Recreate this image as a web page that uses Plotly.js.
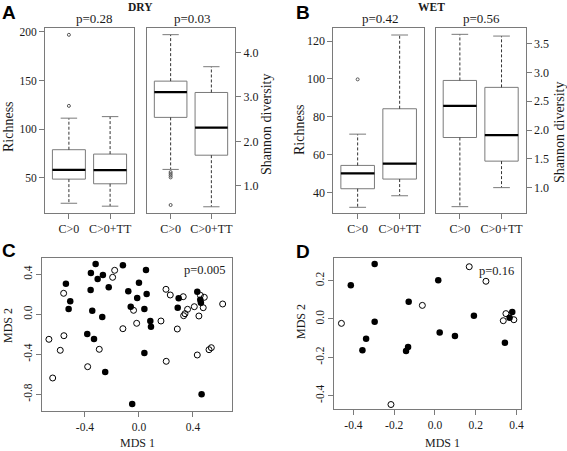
<!DOCTYPE html>
<html>
<head>
<meta charset="utf-8">
<script src="https://cdn.plot.ly/plotly-3.0.1.min.js"></script>
<style>html,body{margin:0;padding:0;background:#fff}#chart{width:567px;height:451px}</style>
</head>
<body>
<div id="chart"></div>
<script>
// ---------- DATA ----------
var categories = ['C>0', 'C>0+TT'];
var positions = [1, 2];

// Panel A (DRY) - Richness
var dryRichLower  = [24, 21];
var dryRichQ1     = [48.8, 44];
var dryRichMedian = [58.3, 58];
var dryRichQ3     = [79, 74.5];
var dryRichUpper  = [111.4, 113];
var dryRichOutX   = [1, 1];
var dryRichOutY   = [197, 124];

// Panel A (DRY) - Shannon diversity
var dryShanLower  = [1.37, 0.53];
var dryShanQ1     = [2.54, 1.69];
var dryShanMedian = [3.11, 2.31];
var dryShanQ3     = [3.355, 3.10];
var dryShanUpper  = [4.40, 3.68];
var dryShanOutX   = [1, 1, 1, 1, 1];
var dryShanOutY   = [1.31, 1.27, 1.23, 1.19, 0.57];

// Panel B (WET) - Richness
var wetRichLower  = [32.3, 38.4];
var wetRichQ1     = [42.1, 47.2];
var wetRichMedian = [50.2, 55.3];
var wetRichQ3     = [54.4, 84.3];
var wetRichUpper  = [70.9, 123.2];
var wetRichOutX   = [1];
var wetRichOutY   = [99.8];

// Panel B (WET) - Shannon diversity
var wetShanLower  = [0.67, 1.0];
var wetShanQ1     = [1.87, 1.46];
var wetShanMedian = [2.42, 1.91];
var wetShanQ3     = [2.86, 2.74];
var wetShanUpper  = [3.66, 3.63];

// Panel C (DRY) - MDS
var cFilledX = [-0.321,-0.356,-0.306,-0.267,-0.119,-0.541,-0.358,-0.224,0.0,-0.509,-0.521,-0.079,-0.013,-0.346,-0.272,-0.061,-0.383,-0.333,-0.25,-0.05,0.052,0.057,0.04,0.084,0.089,0.04,0.294,0.287,0.432,0.459,0.454,0.464];
var cFilledY = [0.503,0.413,0.353,0.393,0.49,0.306,0.243,0.27,0.316,0.13,0.053,0.23,0.163,0.036,-0.027,0.076,-0.197,-0.247,-0.577,-0.897,0.443,0.203,0.053,-0.067,-0.124,-0.387,0.16,0.066,0.226,0.116,0.145,-0.8];
var cOpenX = [-0.18,-0.195,-0.558,-0.04,-0.017,-0.119,-0.667,-0.556,-0.583,-0.294,-0.38,-0.639,0.2,0.232,0.328,0.163,0.284,0.36,0.341,0.331,0.41,0.444,0.476,0.484,0.455,0.62,0.536,0.519,0.432,0.202];
var cOpenY = [0.44,0.37,0.21,0.04,-0.09,-0.144,-0.25,-0.214,-0.36,-0.35,-0.524,-0.637,0.25,0.193,0.176,-0.067,-0.147,0.05,0.006,-0.014,0.076,-0.017,0.066,0.17,0.19,0.103,-0.334,-0.354,-0.407,-0.47];

// Panel D (WET) - MDS
var dFilledX = [-0.296,-0.413,0.016,-0.129,-0.296,-0.338,-0.356,-0.132,-0.142,0.023,0.098,0.191,0.379,0.366,0.343];
var dFilledY = [0.287,0.176,0.202,0.09,-0.014,-0.103,-0.164,-0.146,-0.167,-0.071,-0.089,0.017,0.037,0.007,-0.124];
var dOpenX = [-0.459,-0.062,0.168,0.25,0.348,0.335,0.387,-0.216];
var dOpenY = [-0.023,0.071,0.273,0.197,0.028,-0.009,-0.004,-0.447];

// Tick labels
var dryRichTicks = [50, 100, 150, 200];
var dryShanTicks = [1, 2, 3, 4];
var dryShanTickText = ['1.0', '2.0', '3.0', '4.0'];
var wetRichTicks = [40, 60, 80, 100, 120];
var wetShanTicks = [1, 1.5, 2, 2.5, 3, 3.5];
var wetShanTickText = ['1.0', '1.5', '2.0', '2.5', '3.0', '3.5'];
var cXTicks = [-0.4, 0, 0.4], cXText = ['-0.4', '0.0', '0.4'];
var cYTicks = [-0.8, -0.4, 0, 0.4], cYText = ['-0.8', '-0.4', '0.0', '0.4'];
var dXTicks = [-0.4, -0.2, 0, 0.2, 0.4], dXText = ['-0.4', '-0.2', '0.0', '0.2', '0.4'];
var dYTicks = [-0.4, -0.2, 0, 0.2], dYText = ['-0.4', '-0.2', '0.0', '0.2'];

// ---------- STYLE / LAYOUT ----------
var W = 567, H = 451;
var GREY = '#7a7a7a', TXT = '#1a1a1a';
var SERIF = 'Liberation Serif, Times New Roman, serif';
function px(x){ return x / W; }
function py(y){ return 1 - y / H; }

var traces = [];

function boxPanel(ax, lower, q1, med, q3, upper, outX, outY){
  var xa = 'x' + ax, ya = 'y' + ax;
  if (ax === '') { xa = 'x'; ya = 'y'; }
  traces.push({
    type: 'box', x: positions, q1: q1, median: med, q3: q3,
    lowerfence: q1, upperfence: q3, width: 0.8, whiskerwidth: 0,
    boxpoints: false, fillcolor: '#ffffff', line: {color: GREY, width: 1},
    xaxis: xa, yaxis: ya, showlegend: false, hoverinfo: 'skip'
  });
  var wx = [], wy = [], sx = [], sy = [], mx = [], my = [];
  positions.forEach(function(p, i){
    wx.push(p, p, null, p, p, null); wy.push(q3[i], upper[i], null, q1[i], lower[i], null);
    sx.push(p - 0.2, p + 0.2, null, p - 0.2, p + 0.2, null); sy.push(upper[i], upper[i], null, lower[i], lower[i], null);
    mx.push(p - 0.4, p + 0.4, null); my.push(med[i], med[i], null);
  });
  traces.push({type:'scatter', mode:'lines', x: wx, y: wy, line:{color:'#333', width:1, dash:'3px,2px'}, xaxis: xa, yaxis: ya, showlegend:false, hoverinfo:'skip'});
  traces.push({type:'scatter', mode:'lines', x: sx, y: sy, line:{color:GREY, width:1}, xaxis: xa, yaxis: ya, showlegend:false, hoverinfo:'skip'});
  traces.push({type:'scatter', mode:'lines', x: mx, y: my, line:{color:'#000', width:2.2}, xaxis: xa, yaxis: ya, showlegend:false, hoverinfo:'skip'});
  if (outX && outX.length) {
    traces.push({type:'scatter', mode:'markers', x: outX, y: outY, marker:{symbol:'circle-open', size:3, color:'#555', line:{width:1}}, xaxis: xa, yaxis: ya, showlegend:false, hoverinfo:'skip'});
  }
}

boxPanel('', dryRichLower, dryRichQ1, dryRichMedian, dryRichQ3, dryRichUpper, dryRichOutX, dryRichOutY);
boxPanel('2', dryShanLower, dryShanQ1, dryShanMedian, dryShanQ3, dryShanUpper, dryShanOutX, dryShanOutY);
boxPanel('3', wetRichLower, wetRichQ1, wetRichMedian, wetRichQ3, wetRichUpper, wetRichOutX, wetRichOutY);
boxPanel('4', wetShanLower, wetShanQ1, wetShanMedian, wetShanQ3, wetShanUpper, null, null);

function pts(x, y, filled, xa, ya){
  traces.push({type:'scatter', mode:'markers', x: x, y: y, xaxis: xa, yaxis: ya, showlegend:false, hoverinfo:'skip',
    marker: filled ? {symbol:'circle', size:6.5, color:'#000'} : {symbol:'circle-open', size:6, color:'#000', line:{width:1}}});
}
pts(cFilledX, cFilledY, true, 'x5', 'y5');
pts(cOpenX, cOpenY, false, 'x5', 'y5');
pts(dFilledX, dFilledY, true, 'x6', 'y6');
pts(dOpenX, dOpenY, false, 'x6', 'y6');

function xAx(l, r, anchor, range, tv, tt, size){
  return {domain:[px(l), px(r)], anchor: anchor, range: range, tickvals: tv, ticktext: tt,
    showline:true, mirror:true, linecolor:GREY, linewidth:1, ticks:'outside', ticklen:5, tickcolor:GREY,
    showgrid:false, zeroline:false, fixedrange:true, tickfont:{family:SERIF, size:size||12, color:TXT}};
}
function yAx(t, b, anchor, range, tv, tt, side, angle, size){
  return {domain:[py(b), py(t)], anchor: anchor, range: range, tickvals: tv, ticktext: tt, side: side || 'left',
    tickangle: angle || 0, showline:true, mirror:true, linecolor:GREY, linewidth:1, ticks:'outside', ticklen:5, tickcolor:GREY,
    showgrid:false, zeroline:false, fixedrange:true, tickfont:{family:SERIF, size:size||12, color:TXT}};
}

var boxRange = [0.42, 2.58];
var layout = {
  width: W, height: H, autosize:false, margin:{l:0, r:0, t:0, b:0},
  paper_bgcolor:'#fff', plot_bgcolor:'#fff', showlegend:false,
  xaxis:  xAx(45, 134, 'y', boxRange, positions, categories),
  yaxis:  yAx(28, 213, 'x', [14, 204], dryRichTicks, dryRichTicks.map(String), 'left', 0, 11.5),
  xaxis2: xAx(147, 235, 'y2', boxRange, positions, categories),
  yaxis2: yAx(28, 213, 'x2', [0.39, 4.55], dryShanTicks, dryShanTickText, 'right', 0),
  xaxis3: xAx(333.3, 424, 'y3', boxRange, positions, categories),
  yaxis3: yAx(28, 213, 'x3', [29.3, 126.9], wetRichTicks, wetRichTicks.map(String), 'left', 0),
  xaxis4: xAx(435.7, 525.7, 'y4', boxRange, positions, categories),
  yaxis4: yAx(28, 213, 'x4', [0.56, 3.77], wetShanTicks, wetShanTickText, 'right', 0),
  xaxis5: xAx(42.3, 231.7, 'y5', [-0.716, 0.687], cXTicks, cXText, 11.5),
  yaxis5: yAx(258.3, 410.7, 'x5', [-0.964, 0.56], cYTicks, cYText, 'left', -90, 11.5),
  xaxis6: xAx(334.3, 521, 'y6', [-0.494, 0.422], dXTicks, dXText, 11.5),
  yaxis6: yAx(258.3, 409.3, 'x6', [-0.472, 0.317], dYTicks, dYText, 'left', -90, 11.5),
  annotations: []
};

function ann(text, x, y, opts){
  var a = {text: text, x: px(x), y: py(y), xref:'paper', yref:'paper', xanchor:'center', yanchor:'middle', showarrow:false,
    font:{family:SERIF, size:13, color:TXT}};
  for (var k in (opts||{})) a[k] = opts[k];
  layout.annotations.push(a);
}
var LET = {family:'Liberation Sans, Arial, sans-serif', size:19, color:'#000', weight:'bold'};
ann('<b>A</b>', 9, 12, {font:LET});
ann('<b>B</b>', 303, 12, {font:LET});
ann('<b>C</b>', 9, 250, {font:LET});
ann('<b>D</b>', 303, 251, {font:LET});
ann('<b>DRY</b>', 140, 7, {font:{family:SERIF, size:11.5, color:TXT}});
ann('<b>WET</b>', 431, 7, {font:{family:SERIF, size:11.5, color:TXT}});
ann('p=0.28', 94, 18);
ann('p=0.03', 192.5, 18);
ann('p=0.42', 380, 18);
ann('p=0.56', 481, 18);
ann('Richness', 8, 127, {textangle:-90, font:{family:SERIF, size:14, color:TXT}});
ann('Shannon diversity', 267, 124, {textangle:-90, font:{family:SERIF, size:14, color:TXT}});
ann('Richness', 299, 130, {textangle:-90, font:{family:SERIF, size:14, color:TXT}});
ann('Shannon diversity', 559, 132, {textangle:-90, font:{family:SERIF, size:14, color:TXT}});
ann('p=0.005', 204, 270, {font:{family:SERIF, size:12.5, color:TXT}});
ann('p=0.16', 496, 271, {font:{family:SERIF, size:12.5, color:TXT}});
ann('MDS 2', 8, 326, {textangle:-90, font:{family:SERIF, size:12, color:TXT}});
ann('MDS 2', 301, 322, {textangle:-90, font:{family:SERIF, size:12, color:TXT}});
ann('MDS 1', 137, 443, {font:{family:SERIF, size:12, color:TXT}});
ann('MDS 1', 442, 443, {font:{family:SERIF, size:12, color:TXT}});

Plotly.newPlot('chart', traces, layout, {staticPlot:true, displayModeBar:false});
</script>
</body>
</html>
